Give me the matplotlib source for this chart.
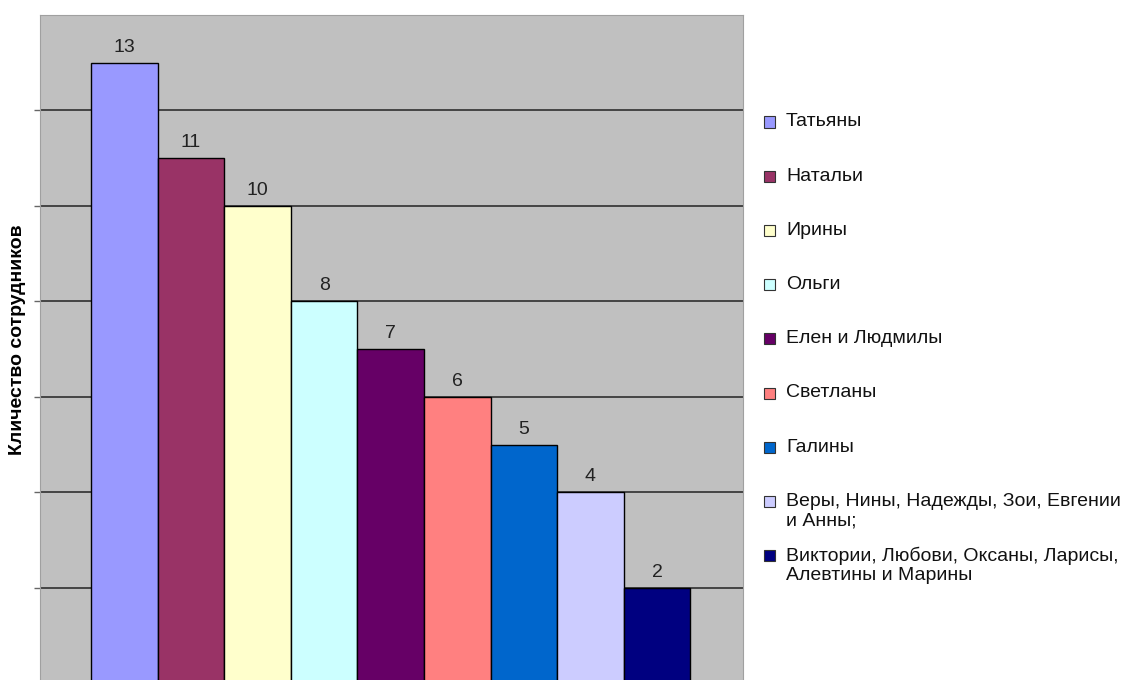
import numpy as np
import matplotlib
matplotlib.use('Agg')
import matplotlib.pyplot as plt
from matplotlib.patches import Rectangle

matplotlib.rc('font', family='Liberation Sans', size=14)

# данные
names = ['Татьяны', 'Натальи', 'Ирины', 'Ольги', 'Елен и Людмилы', 'Светланы',
         'Галины', 'Веры, Нины, Надежды, Зои, Евгении\nи Анны;',
         'Виктории, Любови, Оксаны, Ларисы,\nАлевтины и Марины']
counts = [13, 11, 10, 8, 7, 6, 5, 4, 2]
colors = ['#9999FF', '#993366', '#FFFFCC', '#CCFFFF', '#660066', '#FF8080',
          '#0066CC', '#CCCCFF', '#000080']

W, H = 1125, 680
fig = plt.figure(figsize=(W / 100, H / 100), dpi=100)
ax = fig.add_axes([40 / W, 0, 703 / W, 1 - 15 / H])
ax.set_facecolor('#C0C0C0')

x = np.arange(len(counts))
bars = ax.bar(x, counts, width=1.0, color=colors, edgecolor='black', linewidth=1, zorder=3)
for b, v in zip(bars, counts):
    ax.annotate(str(v), (b.get_x() + b.get_width() / 2, v), xytext=(0, 5),
                textcoords='offset points', ha='center', va='bottom', fontsize=14, color='#222222')

ax.set_xlim(-1.265, 9.29)
ax.set_ylim(0.07, 14)
ax.set_yticks(range(2, 13, 2))
ax.set_yticklabels([])
ax.set_xticks([])
ax.yaxis.grid(True, color='#3a3a3a', linewidth=1.3, zorder=1)
ax.tick_params(axis='y', length=4, width=1, color='#666666', direction='out')
for s in ['top', 'right', 'left']:
    ax.spines[s].set_color('#A0A0A0')
ax.spines['bottom'].set_visible(False)

fig.text(18 / W, 1 - 340 / H, 'Кличество сотрудников', rotation=90, ha='center', va='center',
         fontsize=14, fontweight='bold')

# легенда
for i, (name, c) in enumerate(zip(names, colors)):
    yc = 122 + i * 54.2
    fig.patches.append(Rectangle((764 / W, 1 - (yc + 5.5) / H), 11 / W, 11 / H, facecolor=c,
                                 edgecolor='#333333', linewidth=0.8, transform=fig.transFigure))
    for j, line in enumerate(name.split('\n')):
        fig.text(786 / W, 1 - (yc + j * 20) / H, line, ha='left', va='center', fontsize=14,
                 color='#111111')

plt.savefig('out.png', dpi=100)
